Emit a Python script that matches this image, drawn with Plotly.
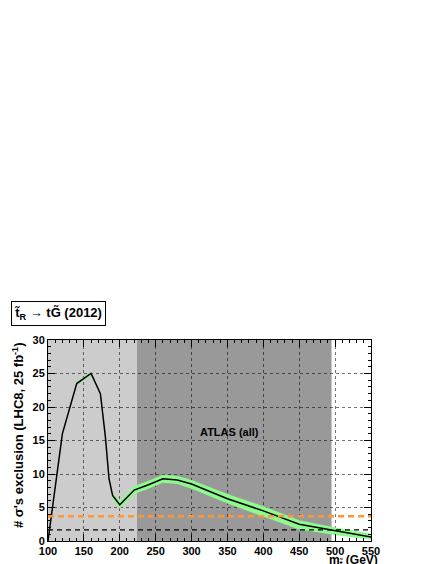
import plotly.graph_objects as go

# stop mass points (GeV) and number of sigma exclusion
mass = [100, 120, 140, 160, 173, 180, 185, 190, 200, 220, 240, 260, 280, 300, 350, 400, 450, 500, 550]
nsig = [0, 16.0, 23.5, 25.0, 22.0, 15.5, 9.3, 6.8, 5.4, 7.6, 8.4, 9.3, 9.1, 8.5, 6.3, 4.5, 2.5, 1.5, 0.6]
nsig_up = [0, 16.1, 23.7, 25.2, 22.1, 15.6, 9.5, 7.2, 5.9, 8.2, 9.0, 9.9, 9.7, 9.1, 7.0, 5.2, 3.1, 2.0, 1.1]
nsig_lo = [0, 15.9, 23.2, 24.7, 21.9, 15.4, 9.0, 6.3, 4.8, 7.0, 7.8, 8.7, 8.5, 7.8, 5.6, 3.7, 1.7, 0.9, 0.2]

# excluded mass ranges (light: earlier, dark: ATLAS all)
light_range = [100, 224]
dark_range = [224, 495]

orange_level = 3.7
black_level = 1.65

FONT = "Liberation Sans"
PW, PH = 323, 201  # plot area size in px

fig = go.Figure()

# green band
fig.add_trace(go.Scatter(x=mass, y=nsig_lo, mode="lines", line=dict(width=0), showlegend=False, hoverinfo="skip"))
fig.add_trace(go.Scatter(x=mass, y=nsig_up, mode="lines", line=dict(width=0), fill="tonexty",
                         fillcolor="rgb(140,250,140)", showlegend=False, hoverinfo="skip"))
# central line
fig.add_trace(go.Scatter(x=mass, y=nsig, mode="lines", line=dict(color="black", width=1.5), showlegend=False))

# horizontal reference lines
fig.add_trace(go.Scatter(x=[100, 550], y=[orange_level] * 2, mode="lines",
                         line=dict(color="rgb(255,150,50)", width=2.5, dash="6px,4px"), showlegend=False))
fig.add_trace(go.Scatter(x=[100, 550], y=[black_level] * 2, mode="lines",
                         line=dict(color="black", width=1.2, dash="5px,4px"), showlegend=False))

# shaded regions (below grid)
fig.add_shape(type="rect", xref="x", yref="y domain", x0=light_range[0], x1=light_range[1], y0=0, y1=1,
              fillcolor="rgb(204,204,204)", line=dict(width=0), layer="below")
fig.add_shape(type="rect", xref="x", yref="y domain", x0=dark_range[0], x1=dark_range[1], y0=0, y1=1,
              fillcolor="rgb(153,153,153)", line=dict(width=0), layer="below")

fig.add_annotation(x=353, y=16.3, text="<b>ATLAS (all)</b>", showarrow=False,
                   font=dict(family=FONT, size=11, color="black"))

# title box
fig.add_annotation(xref="paper", yref="paper", x=-37/PW, y=1 + 14/PH, xanchor="left", yanchor="bottom",
                   text="<b>t̃<sub>R</sub> → tG̃ (2012)</b>", showarrow=False,
                   bordercolor="black", borderwidth=1, borderpad=3, bgcolor="white",
                   font=dict(family=FONT, size=13, color="black"))

# x-axis title (right aligned, ROOT style)
fig.add_annotation(xref="paper", yref="paper", x=1, y=-31/PH, xshift=9, yshift=1,
                   xanchor="right", yanchor="bottom",
                   text="<b>m<sub>t̃</sub> (GeV)</b>", showarrow=False,
                   font=dict(family=FONT, size=12, color="black"))

# y-axis title (top aligned, ROOT style)
fig.add_annotation(xref="paper", yref="paper", x=-30/PW, y=1, xanchor="center", yanchor="top",
                   textangle=-90, text="<b># σ's exclusion (LHC8, 25 fb<sup>-1</sup>)</b>", showarrow=False,
                   font=dict(family=FONT, size=13, color="black"))

axis_common = dict(
    showline=True, linecolor="black", linewidth=1, mirror="ticks",
    ticks="inside", ticklen=7, tickcolor="black",
    showgrid=True, gridcolor="rgba(0,0,0,0.55)", griddash="dot", gridwidth=1,
    zeroline=False, automargin=False,
    tickfont=dict(family=FONT, size=11, color="black", weight="bold"),
)

fig.update_xaxes(range=[100, 550], dtick=50, tick0=100,
                 minor=dict(dtick=10, ticks="inside", ticklen=3, tickcolor="black", showgrid=False),
                 **axis_common)
fig.update_yaxes(range=[0, 30], dtick=5,
                 minor=dict(dtick=1, ticks="inside", ticklen=3, tickcolor="black", showgrid=False),
                 **axis_common)

fig.update_layout(
    width=436, height=564,
    margin=dict(l=40, r=73, t=332, b=31),
    paper_bgcolor="white", plot_bgcolor="white",
    showlegend=False,
)

fig.write_html("out.html")
